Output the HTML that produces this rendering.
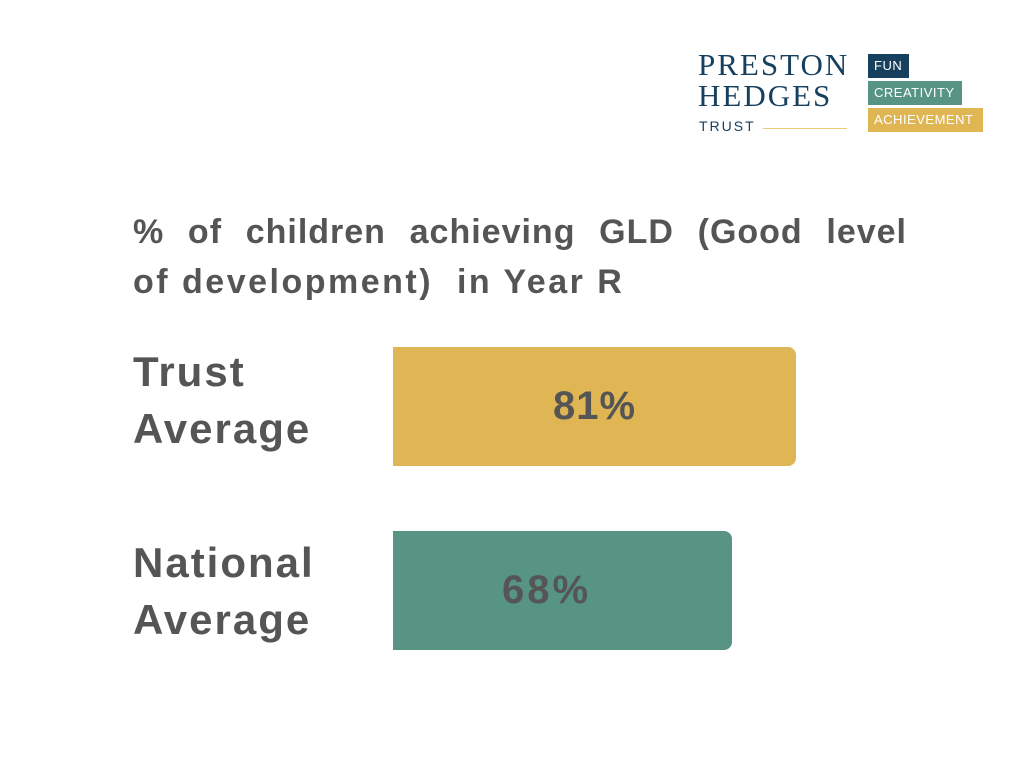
<!DOCTYPE html>
<html><head><style>
body{margin:0;width:1024px;height:768px;background:#fff;position:relative;overflow:hidden;font-family:"Liberation Sans",sans-serif;color:#555}
.a{position:absolute}
.serif{font-family:"Liberation Serif",serif;color:#17405f;letter-spacing:2px}
.tag{position:absolute;left:868px;color:#fff;font-size:13px;line-height:24px;padding-left:6px;box-sizing:border-box;letter-spacing:.5px}
.lab{position:absolute;left:133px;font-size:42px;font-weight:bold;line-height:57px;color:#555;letter-spacing:2px}
.bar{position:absolute;left:393px;border-radius:0 8px 8px 0;font-size:40px;font-weight:bold;color:#555;display:flex;align-items:center;justify-content:center;letter-spacing:1px}
.t{position:absolute;left:133px;width:774px;font-size:34px;font-weight:bold;line-height:50px;color:#555;white-space:nowrap;letter-spacing:2.5px}
</style></head><body>
<div class="a serif" style="left:698px;top:48px;font-size:31px;line-height:34px">PRESTON</div>
<div class="a serif" style="left:698px;top:79px;font-size:31px;line-height:34px">HEDGES</div>
<div class="a" style="left:699px;top:118px;font-size:14px;color:#17405f;letter-spacing:2px">TRUST</div>
<div class="a" style="left:763px;top:128px;width:84px;height:1px;background:#e9c97a"></div>
<div class="tag" style="top:54px;width:41px;height:24px;background:#17405f">FUN</div>
<div class="tag" style="top:81px;width:94px;height:24px;background:#579484">CREATIVITY</div>
<div class="tag" style="top:108px;width:115px;height:24px;background:#e0b655">ACHIEVEMENT</div>
<div class="t" style="top:207px;text-align:justify;text-align-last:justify;white-space:normal;letter-spacing:1px">% of children achieving GLD (Good level</div>
<div class="t" style="top:257px">of development)&nbsp; in Year R</div>
<div class="lab" style="top:343px">Trust<br>Average</div>
<div class="lab" style="top:534px">National<br>Average</div>
<div class="bar" style="top:347px;width:403px;height:119px;background:#e0b655">81%</div>
<div class="bar" style="top:531px;width:339px;height:119px;background:#579484;justify-content:flex-start;padding-left:109px;box-sizing:border-box;letter-spacing:3px">68%</div>
</body></html>
